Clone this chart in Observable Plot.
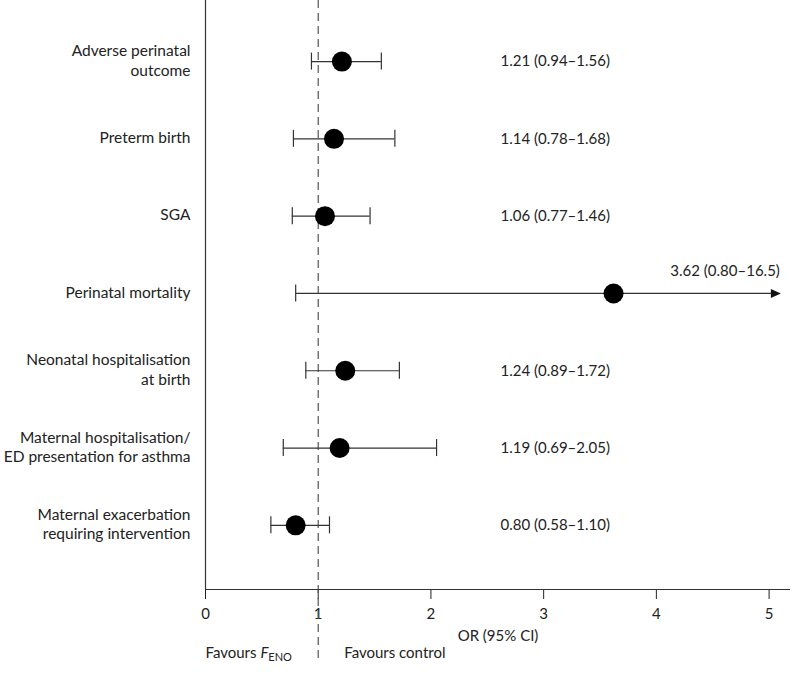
<!DOCTYPE html>
<html><head><meta charset="utf-8">
<script src="https://cdn.jsdelivr.net/npm/d3@7"></script>
<script src="https://cdn.jsdelivr.net/npm/@observablehq/plot@0.6"></script>
<style>body{margin:0;background:#fff}#chart svg{display:block}</style>
</head><body><div id="chart"></div>
<script>
const outcomes = [
  "Adverse perinatal\noutcome",
  "Preterm birth",
  "SGA",
  "Perinatal mortality",
  "Neonatal hospitalisation\nat birth",
  "Maternal hospitalisation/\nED presentation for asthma",
  "Maternal exacerbation\nrequiring intervention"
];
const oddsRatio = [1.21, 1.14, 1.06, 3.62, 1.24, 1.19, 0.80];
const lower = [0.94, 0.78, 0.77, 0.80, 0.89, 0.69, 0.58];
const upper = [1.56, 1.68, 1.46, 16.5, 1.72, 2.05, 1.10];
const ciLabels = [
  "1.21 (0.94–1.56)", "1.14 (0.78–1.68)", "1.06 (0.77–1.46)", "3.62 (0.80–16.5)",
  "1.24 (0.89–1.72)", "1.19 (0.69–2.05)", "0.80 (0.58–1.10)"
];
const xTicks = [0, 1, 2, 3, 4, 5];
const xDomainMax = 5.19;
const arrowAt = 5.06;

const rows = outcomes.map((label, i) => ({
  i, label, or: oddsRatio[i], lo: lower[i], hi: upper[i], ci: ciLabels[i], over: upper[i] > xDomainMax
}));

const triRight = {
  draw(ctx, size) {
    const r = Math.sqrt(size / Math.PI);
    ctx.moveTo(r, 0);
    ctx.lineTo(-r, -r * 0.9);
    ctx.lineTo(-r, r * 0.9);
    ctx.closePath();
  }
};

const font = "Lato, 'Noto Sans', sans-serif";
const ink = "#333";

const chart = Plot.plot({
  width: 793,
  height: 673,
  marginLeft: 205,
  marginRight: 3,
  marginTop: 0,
  marginBottom: 84,
  style: {fontFamily: font, fontSize: "15px", color: "#222", background: "#fff"},
  x: {domain: [0, xDomainMax], ticks: xTicks, tickSize: 10, tickPadding: 9, label: null, tickFormat: d3.format("d")},
  y: {domain: [6.83, -0.79], axis: null},
  marks: [
    Plot.ruleX([1], {y1: -0.79, y2: 7.75, stroke: "#555", strokeWidth: 1.2, strokeDasharray: "8,5"}),
    Plot.ruleX([0], {stroke: ink, strokeWidth: 1.2}),
    Plot.ruleY([6.83], {stroke: ink, strokeWidth: 1.2}),
    Plot.ruleY(rows, {y: "i", x1: "lo", x2: d => d.over ? arrowAt : d.hi, stroke: ink, strokeWidth: 1.2}),
    Plot.ruleX(rows, {x: "lo", y1: d => d.i - 0.11, y2: d => d.i + 0.11, stroke: ink, strokeWidth: 1.2}),
    Plot.ruleX(rows.filter(d => !d.over), {x: "hi", y1: d => d.i - 0.11, y2: d => d.i + 0.11, stroke: ink, strokeWidth: 1.2}),
    Plot.dot(rows.filter(d => d.over), {x: arrowAt, y: "i", symbol: triRight, r: 5, fill: "#111", stroke: "none"}),
    Plot.dot(rows, {x: "or", y: "i", r: 10, fill: "#000", stroke: "none"}),
    Plot.text(rows, {x: 0, y: "i", text: "label", textAnchor: "end", dx: -15, dy: -2, lineHeight: 1.27, fontSize: 15.5, fill: "#222"}),
    Plot.text(rows.filter(d => !d.over), {frameAnchor: "left", dx: 295, y: "i", text: "ci", textAnchor: "start", fontSize: 15, fill: "#222"}),
    Plot.text(rows.filter(d => d.over), {x: arrowAt, dx: 4, y: "i", dy: -22, text: "ci", textAnchor: "end", fontSize: 15, fill: "#222"}),
    Plot.text(["OR (95% CI)"], {frameAnchor: "bottom", dy: 51, text: d => d, fontSize: 15, fill: "#222"}),
    Plot.text(["Favours FENO"], {frameAnchor: "bottom-left", dy: 68, textAnchor: "start", text: d => d, fontSize: 15, fill: "#222", className: "fav-feno"}),
    Plot.text(["Favours control"], {x: 1, frameAnchor: "bottom", dx: 26, dy: 68, textAnchor: "start", text: d => d, fontSize: 15, fill: "#222"})
  ]
});

document.getElementById("chart").appendChild(chart);

// rich text for "Favours F_ENO"
d3.select(chart).selectAll("g.fav-feno text").each(function() {
  const t = d3.select(this);
  t.text(null);
  t.append("tspan").text("Favours ");
  t.append("tspan").attr("font-style", "italic").text("F");
  t.append("tspan").attr("font-size", "11px").attr("dy", "0.35em").text("ENO");
});
</script>
</body></html>
